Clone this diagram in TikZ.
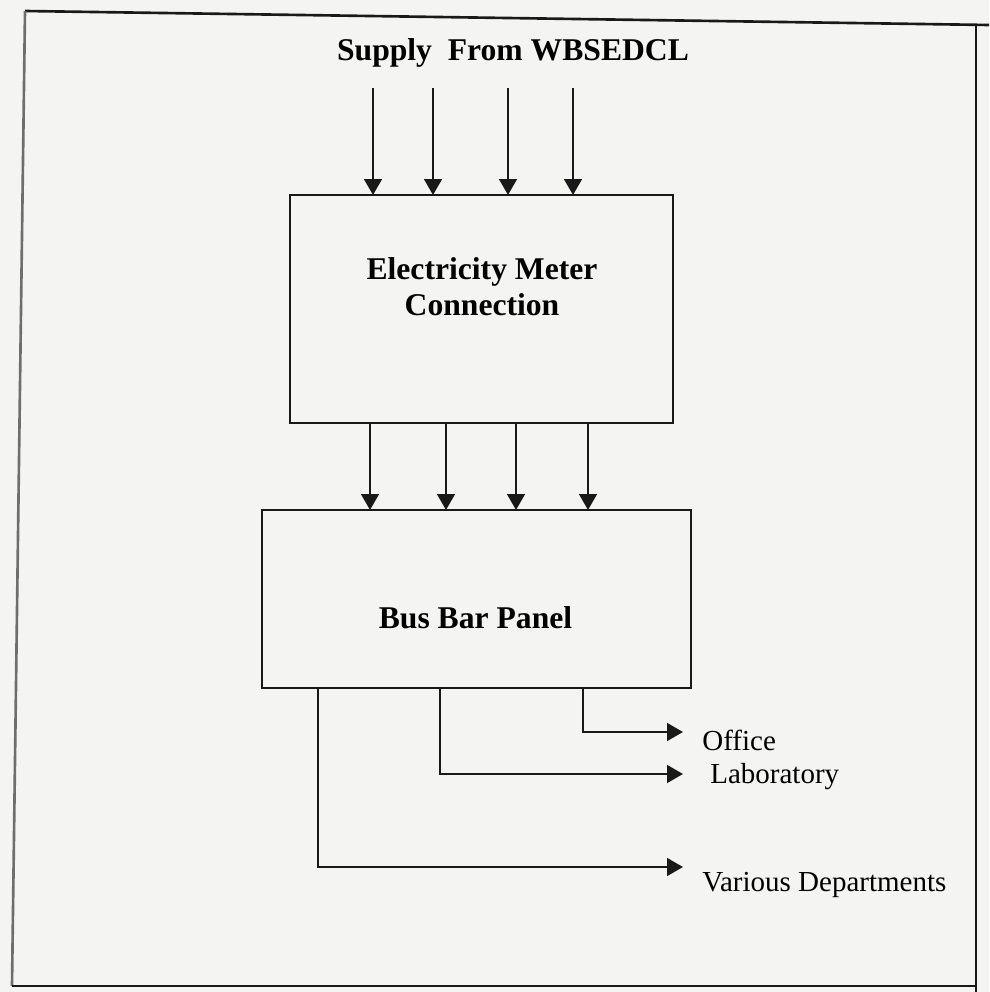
\documentclass[tikz,border=0pt]{standalone}
\usepackage{fontspec}
\setmainfont{Liberation Serif}
\usepackage{tikz}
\usetikzlibrary{arrows.meta, calc, positioning}
\usepackage{xcolor}
\definecolor{paper}{RGB}{244, 244, 242}
\definecolor{inkblack}{RGB}{25, 25, 25}
\definecolor{edgegray}{RGB}{110, 110, 110}

\begin{document}
\begin{tikzpicture}[scale=1.0, >={Triangle[width=10pt, length=9pt]},
    feed/.style={->, line width=1.3pt, inkblack},
    panel/.style={draw=inkblack, line width=1.3pt},
    blocktext/.style={font=\fontsize{18}{20.5}\selectfont\bfseries, align=center, inner sep=0pt},
    outlabel/.style={font=\fontsize{16.5}{18}\selectfont, inner sep=0pt, anchor=base west}]
  % page and frame
  \fill[paper] (0,0) rectangle (19.78,-19.84);
  \useasboundingbox (0,0) rectangle (19.78,-19.84);
  \draw[inkblack, line width=1.5pt] (0.5,-0.22) -- (19.78,-0.5);
  \draw[edgegray, line width=1.5pt] (0.5,-0.22) -- (0.24,-19.72);
  \draw[inkblack, line width=1.5pt] (0.24,-19.72) -- (19.52,-19.72);
  \draw[inkblack, line width=1.5pt] (19.52,-0.5) -- (19.52,-19.84);

  % title
  \node[blocktext, anchor=base] (supply) at (10.26,-1.22) {Supply\ \ From WBSEDCL};

  % blocks
  \draw[panel] (5.8,-3.9) rectangle (13.46,-8.46);
  \coordinate (meter north west) at (5.8,-3.9);
  \coordinate (meter south west) at (5.8,-8.46);
  \node[blocktext] (meter) at (9.64,-5.74) {Electricity Meter\\Connection};

  \draw[panel] (5.24,-10.2) rectangle (13.82,-13.76);
  \coordinate (busbar north west) at (5.24,-10.2);
  \coordinate (busbar south west) at (5.24,-13.76);
  \node[blocktext, anchor=base] (busbar) at (9.51,-12.56) {Bus Bar Panel};

  % incoming supply lines
  \foreach \dx in {1.66, 2.86, 4.36, 5.66} {
    \draw[feed] ($(meter north west)+(\dx,2.14)$) -- ($(meter north west)+(\dx,0)$);
  }

  % meter to bus bar
  \foreach \dx in {1.6, 3.12, 4.52, 5.96} {
    \coordinate (mout) at ($(meter south west)+(\dx,0)$);
    \draw[feed] (mout) -- (mout |- busbar north west);
  }

  % outgoing feeders
  \coordinate (officetip) at (13.66,-14.64);
  \coordinate (labtip) at (13.66,-15.48);
  \coordinate (deptstip) at (13.66,-17.34);
  \draw[feed] ($(busbar south west)+(6.42,0)$) |- (officetip);
  \draw[feed] ($(busbar south west)+(3.56,0)$) |- (labtip);
  \draw[feed] ($(busbar south west)+(1.12,0)$) |- (deptstip);

  \node[outlabel] (office) at (14.04,-15.0) {Office};
  \node[outlabel] (lab) at (14.2,-15.66) {Laboratory};
  \node[outlabel] (depts) at (14.04,-17.82) {Various Departments};

\end{tikzpicture}
\end{document}
